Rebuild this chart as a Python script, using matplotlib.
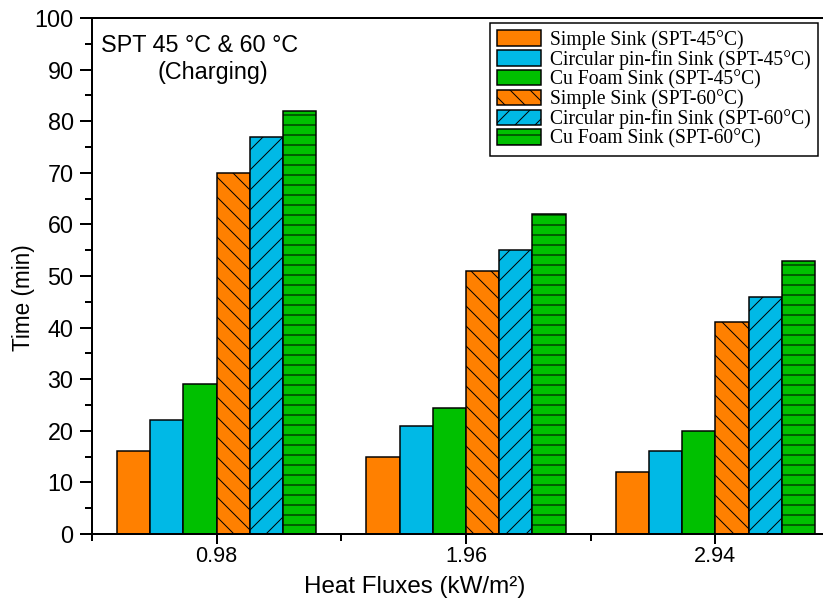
import matplotlib
matplotlib.use("Agg")
import matplotlib.pyplot as plt
import numpy as np

categories = ["0.98", "1.96", "2.94"]
cat_pos = [0.98, 1.96, 2.94]
series_labels = [
    "Simple Sink (SPT-45°C)",
    "Circular pin-fin Sink (SPT-45°C)",
    "Cu Foam Sink (SPT-45°C)",
    "Simple Sink (SPT-60°C)",
    "Circular pin-fin Sink (SPT-60°C)",
    "Cu Foam Sink (SPT-60°C)",
]
simple_45 = [16, 15, 12]
pinfin_45 = [22, 21, 16]
foam_45 = [29, 24.5, 20]
simple_60 = [70, 51, 41]
pinfin_60 = [77, 55, 46]
foam_60 = [82, 62, 53]
series_values = [simple_45, pinfin_45, foam_45, simple_60, pinfin_60, foam_60]

colors = ["#FF8000", "#00B9E6", "#00C000", "#FF8000", "#00B9E6", "#00C000"]
hatches = [None, None, None, "\\\\", "//", "--"]

DPI = 120
plt.rcParams["hatch.linewidth"] = 0.6
plt.rcParams["font.family"] = ["Liberation Sans", "DejaVu Sans"]

fig = plt.figure(figsize=(823 / DPI, 598 / DPI), dpi=DPI)
W, H = 823.0, 598.0
left_px, right_px, top_px, bot_px = 92, 840, 18, 534
ax = fig.add_axes([left_px / W, 1 - bot_px / H, (right_px - left_px) / W, (bot_px - top_px) / H])

w = 0.1306
for i, (vals, lab, c, h) in enumerate(zip(series_values, series_labels, colors, hatches)):
    x = np.array(cat_pos) + (i - 2.5) * w
    ax.bar(x, vals, width=w, color=c, edgecolor="black", linewidth=0.9, hatch=h, label=lab)

ax.set_xlim(0.49, 3.43)
ax.set_ylim(0, 100)
ax.set_xticks(cat_pos)
ax.set_xticklabels(categories)
ax.set_xticks([0.49, 1.47, 2.45], minor=True)
ax.set_yticks(np.arange(0, 101, 10))
ax.set_yticks(np.arange(5, 100, 10), minor=True)
ax.tick_params(axis="y", which="major", direction="out", length=7, width=1.2, labelsize=14, pad=4)
ax.tick_params(axis="x", which="major", direction="out", length=6, width=1.2, labelsize=13, pad=1)
ax.tick_params(axis="both", which="minor", direction="out", length=4, width=1.2)
for s in ax.spines.values():
    s.set_linewidth(1.2)

ax.set_ylabel("Time (min)", fontsize=13.5)
ax.yaxis.set_label_coords((35 - left_px) / (right_px - left_px), (bot_px - 298) / (bot_px - top_px))
ax.set_xlabel("Heat Fluxes (kW/m²)", fontsize=14.5)
ax.xaxis.label.set_verticalalignment("baseline")
ax.xaxis.set_label_coords((415 - left_px) / (right_px - left_px), (bot_px - 592.5) / (bot_px - top_px))

fig.text(200 / W, 1 - 45 / H, "SPT 45 °C & 60 °C", ha="center", va="center", fontsize=14)
fig.text(213 / W, 1 - 72 / H, "(Charging)", ha="center", va="center", fontsize=14)

leg = ax.legend(loc="upper right", bbox_to_anchor=(818 / W, 1 - 23 / H), bbox_transform=fig.transFigure,
                borderaxespad=0, frameon=True, fancybox=False, edgecolor="black", framealpha=1,
                prop={"family": "Liberation Serif", "size": 11.8},
                handlelength=2.2, handleheight=0.85, handletextpad=0.5, labelspacing=0.0, borderpad=0.35)
leg.get_frame().set_linewidth(0.9)

fig.savefig("out.png", dpi=DPI)
